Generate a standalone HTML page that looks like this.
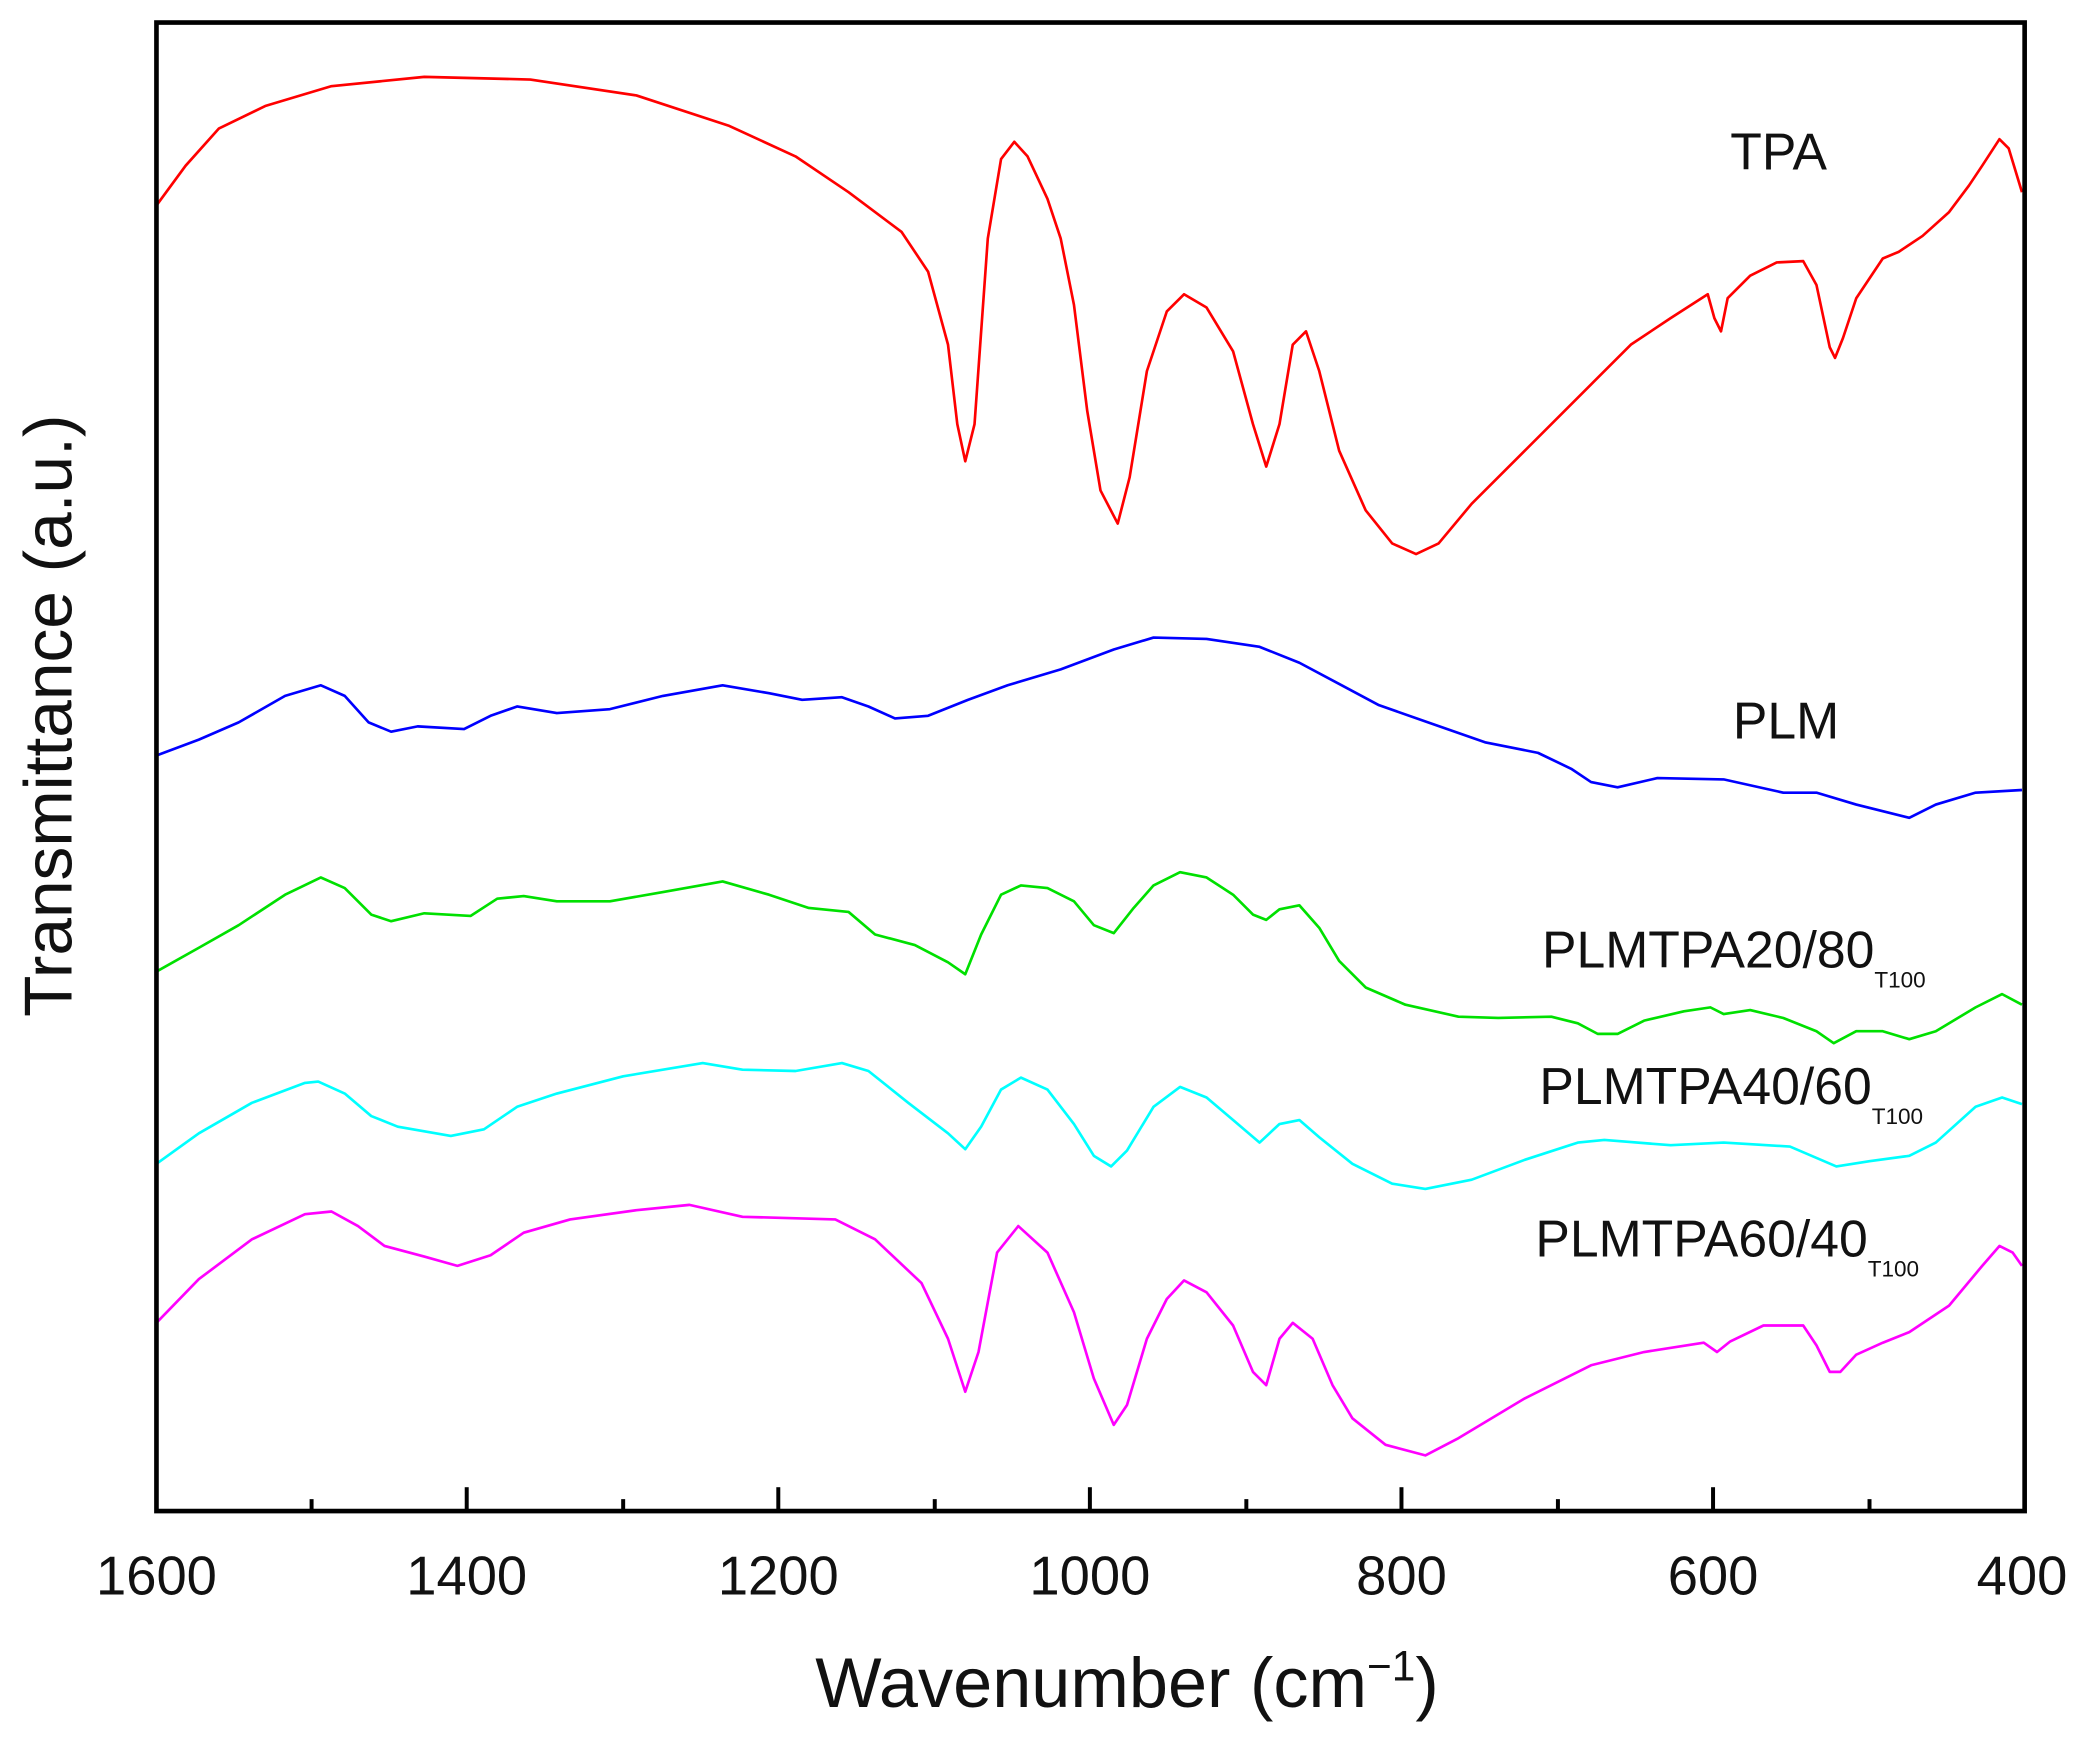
<!DOCTYPE html>
<html><head><meta charset="utf-8"><style>html,body{margin:0;padding:0;background:#fff}svg{display:block}</style></head>
<body>
<svg width="2079" height="1747" viewBox="0 0 1568 1318" preserveAspectRatio="none" xmlns="http://www.w3.org/2000/svg" font-family="Liberation Sans, sans-serif">
<rect width="1568" height="1318" fill="#fff"/>
<g fill="none" stroke-width="2" stroke-linejoin="round">
<polyline stroke="#ff0000" points="118,155 140,125 165,97 200,80 250,65 320,58 400,60 480,72 550,95 600,118 640,145 680,175 700,205 715,260 722,320 728,348 735,320 745,180 755,120 765,107 775,118 790,150 800,180 810,230 820,310 830,370 843,395 852,360 865,280 880,235 893,222 910,232 930,265 945,320 955,352 965,320 975,260 985,250 995,280 1010,340 1030,385 1050,410 1068,418 1085,410 1110,380 1150,340 1200,290 1230,260 1260,240 1288,222 1293,240 1298,250 1303,225 1320,208 1340,198 1360,197 1370,215 1380,262 1384,270 1390,255 1400,225 1420,195 1432,190 1450,178 1470,160 1485,140 1495,125 1508,105 1515,112 1525,145"/>
<polyline stroke="#0000ff" points="118,570 150,558 180,545 215,525 242,517 260,525 278,545 295,552 315,548 350,550 370,540 390,533 420,538 460,535 500,525 545,517 580,523 605,528 635,526 655,533 675,542 700,540 730,528 760,517 800,505 840,490 870,481 910,482 950,488 980,500 1010,516 1040,532 1080,546 1120,560 1160,568 1185,580 1200,590 1220,594 1250,587 1300,588 1345,598 1370,598 1400,607 1440,617 1460,607 1490,598 1525,596"/>
<polyline stroke="#00e000" points="118,733 150,715 180,698 215,675 242,662 260,670 280,690 295,695 320,689 355,691 375,678 395,676 420,680 460,680 500,673 545,665 580,675 610,685 640,688 660,705 690,713 715,726 728,735 740,705 755,675 770,668 790,670 810,680 825,698 840,704 855,685 870,668 890,658 910,662 930,675 945,690 955,694 965,686 980,683 995,700 1010,725 1030,745 1060,758 1100,767 1130,768 1170,767 1190,772 1205,780 1220,780 1240,770 1270,763 1290,760 1300,765 1320,762 1345,768 1370,778 1383,787 1400,778 1420,778 1440,784 1460,778 1490,760 1510,750 1525,758"/>
<polyline stroke="#00ffff" points="118,878 150,855 190,832 230,817 240,816 260,825 280,842 300,850 340,857 365,852 390,835 420,825 470,812 530,802 560,807 600,808 635,802 655,808 685,832 715,855 728,867 740,850 755,822 770,813 790,822 810,848 825,872 838,880 850,868 870,835 890,820 910,828 930,845 950,862 965,848 980,845 995,858 1020,878 1050,893 1075,897 1110,890 1150,875 1190,862 1210,860 1260,864 1300,862 1350,865 1385,880 1410,876 1440,872 1460,862 1490,835 1510,828 1525,833"/>
<polyline stroke="#ff00ff" points="118,998 150,965 190,935 230,916 250,914 270,925 290,940 320,948 345,955 370,947 395,930 430,920 480,913 520,909 560,918 630,920 660,935 695,968 715,1010 728,1050 738,1020 752,945 768,925 790,945 810,990 825,1040 840,1075 850,1060 865,1010 880,980 893,966 910,975 930,1000 945,1035 955,1045 965,1010 975,998 990,1010 1005,1045 1020,1070 1045,1090 1075,1098 1100,1085 1150,1055 1200,1030 1240,1020 1285,1013 1295,1020 1305,1012 1330,1000 1360,1000 1370,1015 1380,1035 1388,1035 1400,1022 1420,1013 1440,1005 1470,985 1495,955 1508,940 1518,945 1525,955"/>
</g>
<rect x="118" y="17" width="1409" height="1123" fill="none" stroke="#000" stroke-width="3.5"/>
<g stroke="#000" stroke-width="3">
<line x1="235" y1="1140" x2="235" y2="1131"/><line x1="352" y1="1140" x2="352" y2="1122"/>
<line x1="470" y1="1140" x2="470" y2="1131"/><line x1="587" y1="1140" x2="587" y2="1122"/>
<line x1="705" y1="1140" x2="705" y2="1131"/><line x1="822" y1="1140" x2="822" y2="1122"/>
<line x1="940" y1="1140" x2="940" y2="1131"/><line x1="1057" y1="1140" x2="1057" y2="1122"/>
<line x1="1175" y1="1140" x2="1175" y2="1131"/><line x1="1292" y1="1140" x2="1292" y2="1122"/>
<line x1="1410" y1="1140" x2="1410" y2="1131"/>
</g>
<g font-size="41" text-anchor="middle" fill="#111">
<text x="118" y="1203">1600</text><text x="352" y="1203">1400</text><text x="587" y="1203">1200</text>
<text x="822" y="1203">1000</text><text x="1057" y="1203">800</text><text x="1292" y="1203">600</text><text x="1525" y="1203">400</text>
</g>
<text x="850" y="1288" font-size="53" text-anchor="middle" fill="#111">Wavenumber (cm<tspan font-size="32" dy="-20">−1</tspan><tspan dy="20">)</tspan></text>
<text transform="translate(54,540) rotate(-90)" font-size="51" text-anchor="middle" fill="#111">Transmittance (a.u.)</text>
<g font-size="39" fill="#111">
<text x="1305" y="128">TPA</text>
<text x="1307" y="557">PLM</text>
<text x="1163" y="730">PLMTPA20/80<tspan font-size="17" dy="15">T100</tspan></text>
<text x="1161" y="833">PLMTPA40/60<tspan font-size="17" dy="15">T100</tspan></text>
<text x="1158" y="948">PLMTPA60/40<tspan font-size="17" dy="15">T100</tspan></text>
</g>
</svg>
</body></html>
